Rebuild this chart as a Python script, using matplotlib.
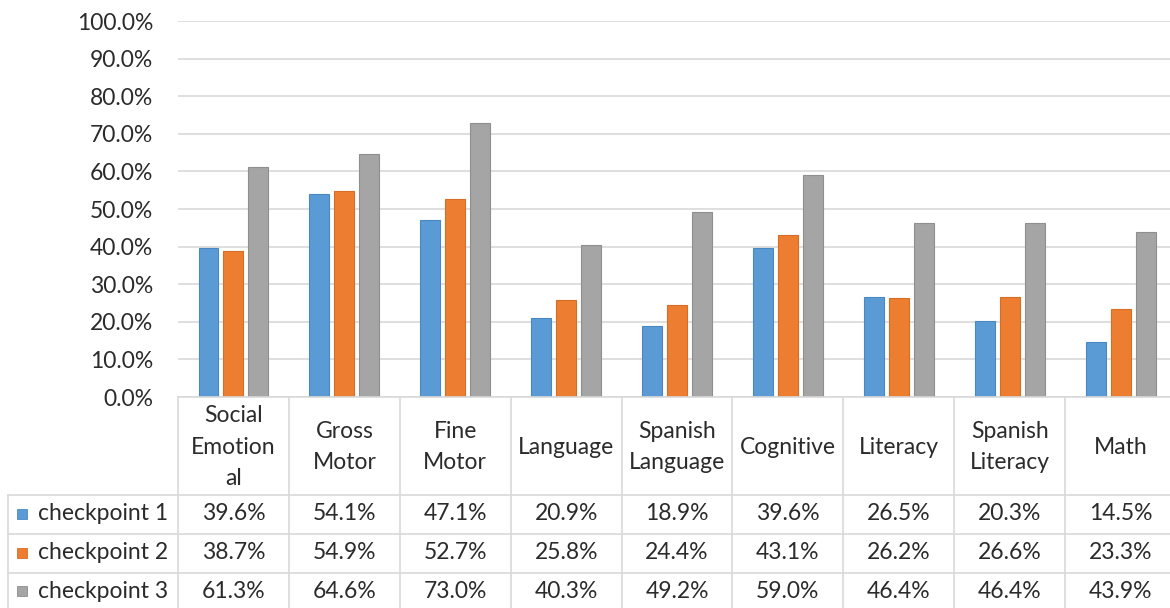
import matplotlib
matplotlib.use("Agg")
import matplotlib.pyplot as plt
from matplotlib.patches import Rectangle
from matplotlib.ticker import FuncFormatter

categories = ["Social\nEmotion\nal", "Gross\nMotor", "Fine\nMotor", "Language",
              "Spanish\nLanguage", "Cognitive", "Literacy", "Spanish\nLiteracy", "Math"]
series_names = ["checkpoint 1", "checkpoint 2", "checkpoint 3"]
cp1 = [39.6, 54.1, 47.1, 20.9, 18.9, 39.6, 26.5, 20.3, 14.5]
cp2 = [38.7, 54.9, 52.7, 25.8, 24.4, 43.1, 26.2, 26.6, 23.3]
cp3 = [61.3, 64.6, 73.0, 40.3, 49.2, 59.0, 46.4, 46.4, 43.9]
series = [cp1, cp2, cp3]
colors = ["#5B9BD5", "#ED7D31", "#A5A5A5"]
edges = ["#4A88C2", "#D66D25", "#8F8F8F"]
yticks = [0, 10, 20, 30, 40, 50, 60, 70, 80, 90, 100]

W, H = 1170, 608
fig = plt.figure(figsize=(W / 100, H / 100), dpi=100)
FONT = "Lato"
TXT = "#2B2B2B"
GRID = "#D9D9D9"
FS = 16.5

# main axes in pixel placement
x0, x1 = 178, 178 + 9 * 110.9
y_top, y_bot = 21, 397
ax = fig.add_axes([x0 / W, 1 - y_bot / H, (x1 - x0) / W, (y_bot - y_top) / H])
ax.set_xlim(-0.5, len(categories) - 0.5)
ax.set_ylim(0, 100)
for s in ax.spines.values():
    s.set_visible(False)
ax.set_yticks(yticks)
ax.yaxis.set_major_formatter(FuncFormatter(lambda v, p: f"{v:.1f}%"))
ax.tick_params(axis="y", length=0, pad=18, labelsize=FS, labelcolor=TXT)
for lab in ax.get_yticklabels():
    lab.set_family(FONT)
ax.set_xticks([])
ax.grid(axis="y", color=GRID, linewidth=1.2)
ax.set_axisbelow(True)

offsets = [-0.225, 0.0, 0.225]
bw = 0.18
for vals, off, c, e in zip(series, offsets, colors, edges):
    ax.bar([i + off for i in range(len(categories))], vals, width=bw,
           color=c, edgecolor=e, linewidth=0.8, zorder=3)

# overlay axes in pixel coordinates for the data table
tab = fig.add_axes([0, 0, 1, 1])
tab.set_xlim(0, W)
tab.set_ylim(H, 0)
tab.axis("off")

def data_to_px(xd):
    disp = ax.transData.transform((xd, 0))
    return disp[0] * W / fig.bbox.width

bounds = [data_to_px(i - 0.5) for i in range(len(categories) + 1)]
centers = [data_to_px(i) for i in range(len(categories))]

row_lines = [495, 534, 573, 612]
left = 8
lw = 1.2
tab.plot([bounds[0], W + 10], [y_bot, y_bot], color=GRID, lw=lw)
for y in row_lines:
    tab.plot([left, W + 10], [y, y], color=GRID, lw=lw)
tab.plot([left, left], [row_lines[0], H + 5], color=GRID, lw=lw)
for bx in bounds:
    tab.plot([bx, bx], [y_bot, H + 5], color=GRID, lw=lw)

for cx, cat in zip(centers, categories):
    tab.text(cx, (y_bot + row_lines[0]) / 2 + 1, cat, ha="center", va="center",
             fontsize=FS, family=FONT, color=TXT, linespacing=1.6)

for r, (name, vals, c, e) in enumerate(zip(series_names, series, colors, edges)):
    yc = (row_lines[r] + row_lines[r + 1]) / 2 - 1
    if r == 2:
        yc = 591
    tab.add_patch(Rectangle((17, yc - 5), 10, 10, facecolor=c, edgecolor=e, lw=0.6))
    tab.text(38, yc, name, ha="left", va="center", fontsize=FS, family=FONT, color=TXT)
    for cx, v in zip(centers, vals):
        tab.text(cx, yc, f"{v:.1f}%", ha="center", va="center", fontsize=FS,
                 family=FONT, color=TXT)

fig.savefig("out.png", dpi=100, facecolor="white")
